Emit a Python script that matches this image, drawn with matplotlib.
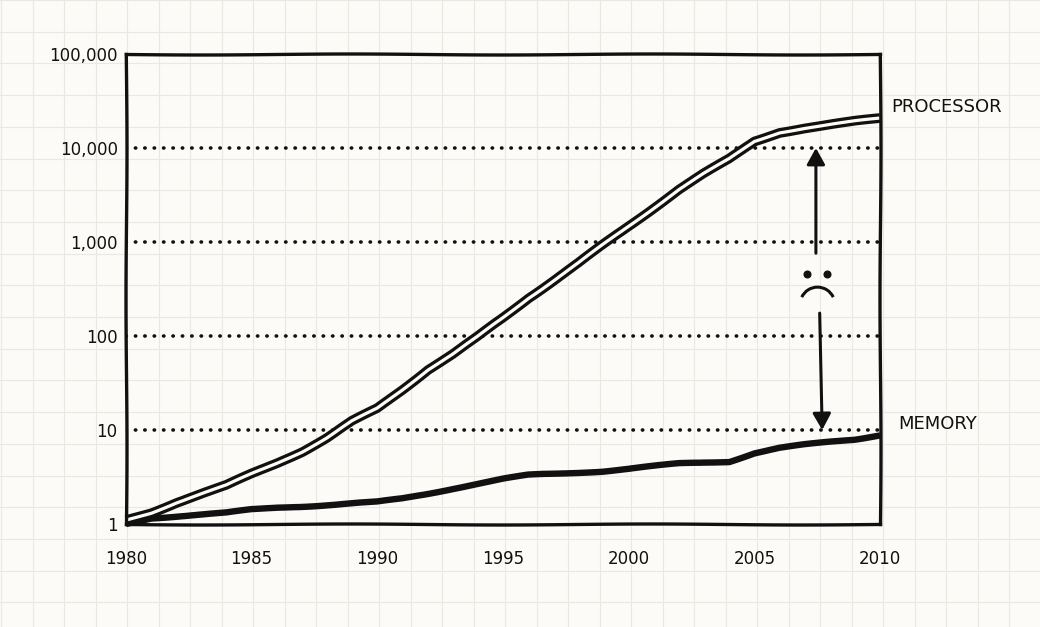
import numpy as np
import matplotlib.pyplot as plt
from matplotlib.path import Path

# Values (relative performance, log scale)
years = list(range(1980, 2011))
processor = [1.1, 1.32, 1.69, 2.09, 2.57, 3.42, 4.44, 5.9, 8.3, 12.4,
             16.9, 27, 43.9, 64, 98, 156, 254, 387, 594, 940,
             1480, 2320, 3610, 5320, 7620, 11800, 14700, 16300, 17700, 19200,
             20600]
memory = [1.0, 1.16, 1.21, 1.26, 1.31, 1.42, 1.49, 1.54, 1.60, 1.66,
          1.71, 1.86, 2.10, 2.39, 2.69, 3.01, 3.30, 3.41, 3.54, 3.66,
          3.86, 4.11, 4.38, 4.51, 4.63, 5.69, 6.43, 6.95, 7.43, 7.91,
          8.9]

x_ticks = [1980, 1985, 1990, 1995, 2000, 2005, 2010]
y_ticks = [1, 10, 100, 1000, 10000, 100000]
y_labels = ['1', '10', '100', '1,000', '10,000', '100,000']
dotted_levels = [10, 100, 1000, 10000]

paper = '#fcfbf7'
ink = '#111111'

fig = plt.figure(figsize=(10.4, 6.27), dpi=100, facecolor=paper)

# grid paper in the background
bg = fig.add_axes([0, 0, 1, 1], zorder=-5)
bg.set_xlim(0, 1040)
bg.set_ylim(627, 0)
bg.set_facecolor(paper)
bg.axis('off')
for gx in np.arange(1, 1040, 31.5):
    bg.axvline(gx, color='#eae8e2', lw=0.8)
for gy in np.arange(0, 627, 31.7):
    bg.axhline(gy, color='#eae8e2', lw=0.8)

ax = fig.add_axes([126 / 1040, 103 / 627, 754 / 1040, 470 / 627])
ax.patch.set_alpha(0)
ax.set_yscale('log')
ax.set_xlim(1980, 2010)
ax.set_ylim(1, 100000)

for v in dotted_levels:
    ax.axhline(v, color=ink, lw=2.6, ls=(0, (0.1, 2.5)), dash_capstyle='round')

# processor: double line (black with paper-coloured core)
l1, = ax.plot(years, processor, color=ink, lw=7.0, solid_capstyle='butt', zorder=3)
l2, = ax.plot(years, processor, color=paper, lw=2.3, solid_capstyle='butt', zorder=4)
l3, = ax.plot(years, memory, color=ink, lw=4.6, solid_capstyle='butt', zorder=3)
for ln in (l1, l2, l3):
    ln.set_sketch_params(0.7, 160, 2)
    ln.set_clip_on(False)

for sp in ax.spines.values():
    sp.set_linewidth(2.4)
    sp.set_color(ink)
    sp.set_sketch_params(0.5, 300, 1)
    sp.set_zorder(5)

ax.set_xticks(x_ticks)
ax.set_xticklabels([str(x) for x in x_ticks])
ax.set_yticks(y_ticks)
ax.set_yticklabels(y_labels)
ax.yaxis.set_minor_locator(plt.NullLocator())
ax.tick_params(axis='x', length=0, pad=19, labelsize=12, labelcolor=ink)
ax.tick_params(axis='y', length=0, pad=6, labelsize=12, labelcolor=ink)

# labels at the right end of the lines
ax.annotate('PROCESSOR', xy=(years[-1], processor[-1]), xytext=(8, 8),
            textcoords='offset points', ha='left', va='center',
            fontsize=13, color=ink, annotation_clip=False)
ax.annotate('MEMORY', xy=(years[-1], memory[-1]), xytext=(13, 8),
            textcoords='offset points', ha='left', va='center',
            fontsize=13, color=ink, annotation_clip=False)

# the gap arrows
arrow_style = dict(arrowstyle='-|>,head_length=0.45,head_width=0.25', color=ink,
                   lw=2.2, mutation_scale=22, shrinkA=0, shrinkB=0)
ax.annotate('', xy=(2007.45, 10000), xytext=(2007.45, 760), arrowprops=arrow_style)
ax.annotate('', xy=(2007.7, 10), xytext=(2007.6, 175), arrowprops=arrow_style)

# sad face between the arrows
ax.plot([2007.1, 2007.9], [457, 457], 'o', color=ink, ms=4.8, zorder=6)
ax.plot([2007.5], [219], marker=Path.arc(25, 155), ms=25, mfc='none',
        mec=ink, mew=2.2, ls='none', zorder=6)

plt.savefig('out.png', dpi=100, facecolor=paper)
